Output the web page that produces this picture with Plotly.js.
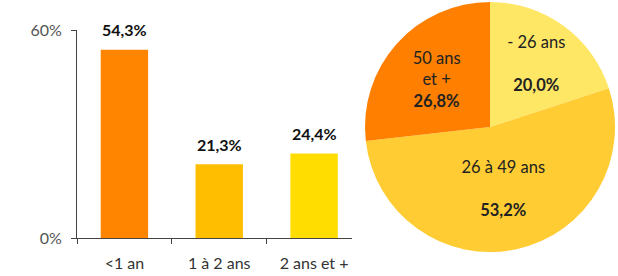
<!DOCTYPE html>
<html>
<head>
<meta charset="utf-8">
<script src="https://cdn.plot.ly/plotly-3.0.1.min.js"></script>
<style>html,body{margin:0;padding:0;background:#fff}#chart{width:618px;height:276px}</style>
</head>
<body>
<div id="chart"></div>
<script>
const barCategories = ['<1 an', '1 à 2 ans', '2 ans et +'];
const barValues = [54.3, 21.3, 24.4];
const barLabels = ['54,3%', '21,3%', '24,4%'];
const barColors = ['#FF8400', '#FFBF00', '#FFDD00'];

const pieLabels = ['- 26 ans', '26 à 49 ans', '50 ans<br>et +'];
const pieValues = [20.0, 53.2, 26.8];
const piePctLabels = ['20,0%', '53,2%', '26,8%'];
const pieSeps = ['<br><br>', '<br><br>', '<br>'];
const pieColors = ['#FFE766', '#FFCC33', '#FF8000'];

const yTickVals = [0, 60];
const yTickText = ['0%', '60%'];

const FONT = 'Lato, "Open Sans", sans-serif';

const bar = {
  type: 'bar',
  x: barCategories,
  y: barValues,
  width: 0.5,
  marker: {color: barColors},
  hoverinfo: 'none',
  xaxis: 'x', yaxis: 'y'
};

const pie = {
  type: 'pie',
  labels: pieLabels,
  values: pieValues,
  text: pieLabels.map((l, i) => l + pieSeps[i] + '<b>' + piePctLabels[i] + '</b>'),
  textinfo: 'text',
  textposition: 'inside',
  insidetextorientation: 'horizontal',
  sort: false,
  direction: 'clockwise',
  rotation: 0,
  marker: {colors: pieColors, line: {width: 0}},
  textfont: {family: FONT, size: 16.5, color: '#222'},
  showlegend: false,
  hoverinfo: 'none',
  domain: {x: [365/618, 615/618], y: [1 - 252/276, 1 - 2/276]}
};

const annotations = barCategories.map((c, i) => ({
  x: c, y: barValues[i], xref: 'x', yref: 'y',
  text: '<b>' + barLabels[i] + '</b>',
  showarrow: false, yanchor: 'middle', yshift: 20,
  font: {family: FONT, size: 16, color: '#111'}
}));

const layout = {
  width: 618, height: 276,
  margin: {l: 0, r: 0, t: 0, b: 0},
  paper_bgcolor: '#fff', plot_bgcolor: '#fff',
  showlegend: false,
  font: {family: FONT},
  xaxis: {
    domain: [77/618, 352/618],
    range: [-0.5, 2.4],
    showline: true, linecolor: '#444', linewidth: 1,
    ticks: 'outside', tickson: 'boundaries', ticklen: 5, tickcolor: '#444',
    ticklabelstandoff: 11,
    showgrid: false, zeroline: false,
    tickfont: {family: FONT, size: 16, color: '#333'},
    fixedrange: true
  },
  yaxis: {
    domain: [1 - 238/276, 1 - 30/276],
    range: [0, 60],
    showline: true, linecolor: '#444', linewidth: 1,
    ticks: 'outside', ticklen: 5, tickcolor: '#444',
    ticklabelstandoff: 6,
    tickvals: yTickVals, ticktext: yTickText,
    showgrid: false, zeroline: false,
    tickfont: {family: FONT, size: 16, color: '#555'},
    fixedrange: true
  },
  annotations: annotations
};

Plotly.newPlot('chart', [bar, pie], layout, {displayModeBar: false, staticPlot: true});
</script>
</body>
</html>
